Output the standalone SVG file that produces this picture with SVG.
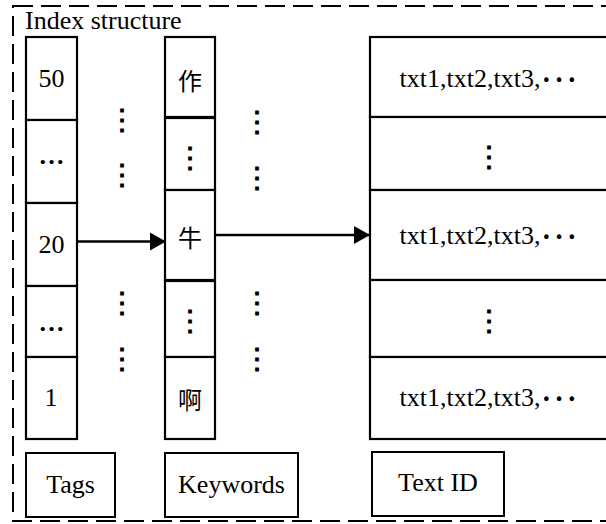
<svg xmlns="http://www.w3.org/2000/svg" width="606" height="524" viewBox="0 0 606 524">
<style>
.bx{fill:#fff;stroke:#000;stroke-width:2.2}
.lb{fill:none;stroke:#000;stroke-width:2}
.t{font-family:"Liberation Serif","Times New Roman",serif;font-size:26px;fill:#000;text-anchor:middle}
.el{font-weight:bold}
.cj{font-family:"Noto Sans CJK SC",sans-serif;font-size:24px;fill:#000;text-anchor:middle;dominant-baseline:central}
.vd{font-family:"Noto Sans CJK SC",sans-serif;font-size:28px;font-weight:bold;fill:#000;text-anchor:middle;dominant-baseline:central}
.hd{font-family:"Liberation Serif","Times New Roman",serif;font-size:26px;fill:#000;text-anchor:middle}
.md{font-family:"Noto Sans CJK SC",sans-serif;font-size:34px}
.ar{stroke:#000;stroke-width:2.4;fill:none}
</style>
<defs>
<marker id="ah" markerUnits="userSpaceOnUse" markerWidth="16" markerHeight="18" refX="16" refY="9" orient="auto">
<path d="M0,0 L16,9 L0,18 z" fill="#000"/>
</marker>
</defs>
<g id="frame">
<rect x="13" y="6" width="620" height="515" fill="none" stroke="#000" stroke-width="2" stroke-dasharray="20 8"/>
<text x="25" y="29" class="t" style="text-anchor:start">Index structure</text>
</g>
<g id="tags">
<rect class="bx" x="26" y="37" width="51" height="83"/>
<text class="t" x="51.5" y="87">50</text>
<rect class="bx" x="26" y="120" width="51" height="83"/>
<text class="t el" x="51.5" y="164">…</text>
<rect class="bx" x="26" y="203" width="51" height="83"/>
<text class="t" x="51.5" y="253">20</text>
<rect class="bx" x="26" y="286" width="51" height="71"/>
<text class="t el" x="51.5" y="331">…</text>
<rect class="bx" x="26" y="357" width="51" height="82"/>
<text class="t" x="51" y="406">1</text>
</g>
<g id="keywords">
<rect class="bx" x="165" y="37" width="50" height="80"/>
<text class="cj" x="190" y="79">作</text>
<rect class="bx" x="165" y="118" width="50" height="72"/>
<text class="vd" x="189.5" y="155.3">⋮</text>
<rect class="bx" x="165" y="190" width="50" height="90"/>
<text class="cj" x="190" y="236">牛</text>
<rect class="bx" x="165" y="281" width="50" height="76"/>
<text class="vd" x="189.5" y="318.3">⋮</text>
<rect class="bx" x="165" y="357" width="50" height="82"/>
<text class="cj" x="190" y="398">啊</text>
</g>
<g id="textids">
<rect class="bx" x="370" y="37" width="250" height="80"/>
<text class="hd" x="488" y="87">txt1,txt2,txt3,<tspan class="md" dy="-5">⋯</tspan></text>
<rect class="bx" x="370" y="117" width="250" height="73"/>
<text class="vd" x="488.7" y="153.5">⋮</text>
<rect class="bx" x="370" y="190" width="250" height="90"/>
<text class="hd" x="488" y="243.5">txt1,txt2,txt3,<tspan class="md" dy="-5">⋯</tspan></text>
<rect class="bx" x="370" y="280" width="250" height="77"/>
<text class="vd" x="488.7" y="318">⋮</text>
<rect class="bx" x="370" y="357" width="250" height="82"/>
<text class="hd" x="488" y="406">txt1,txt2,txt3,<tspan class="md" dy="-5">⋯</tspan></text>
</g>
<g id="gaps">
<text class="vd" x="121.7" y="117.2">⋮</text>
<text class="vd" x="121.7" y="172.3">⋮</text>
<text class="vd" x="121.7" y="300.3">⋮</text>
<text class="vd" x="121.7" y="356.3">⋮</text>
<text class="vd" x="257.3" y="119.3">⋮</text>
<text class="vd" x="257.3" y="175">⋮</text>
<text class="vd" x="257.3" y="300.3">⋮</text>
<text class="vd" x="257.3" y="356.3">⋮</text>
</g>
<g id="legend-tags">
<rect class="lb" x="26" y="453" width="89" height="64"/>
<text class="t" x="70.5" y="493">Tags</text>
</g>
<g id="legend-keywords">
<rect class="lb" x="165" y="453" width="133" height="64"/>
<text class="t" x="231.5" y="493">Keywords</text>
</g>
<g id="legend-textid">
<rect class="lb" x="372" y="452" width="132" height="64"/>
<text class="t" x="438" y="491">Text ID</text>
</g>
<g id="connectors">
<line class="ar" x1="77" y1="241.5" x2="166" y2="241.5" marker-end="url(#ah)"/>
<line class="ar" x1="215" y1="235" x2="370" y2="235" marker-end="url(#ah)"/>
</g>
</svg>
